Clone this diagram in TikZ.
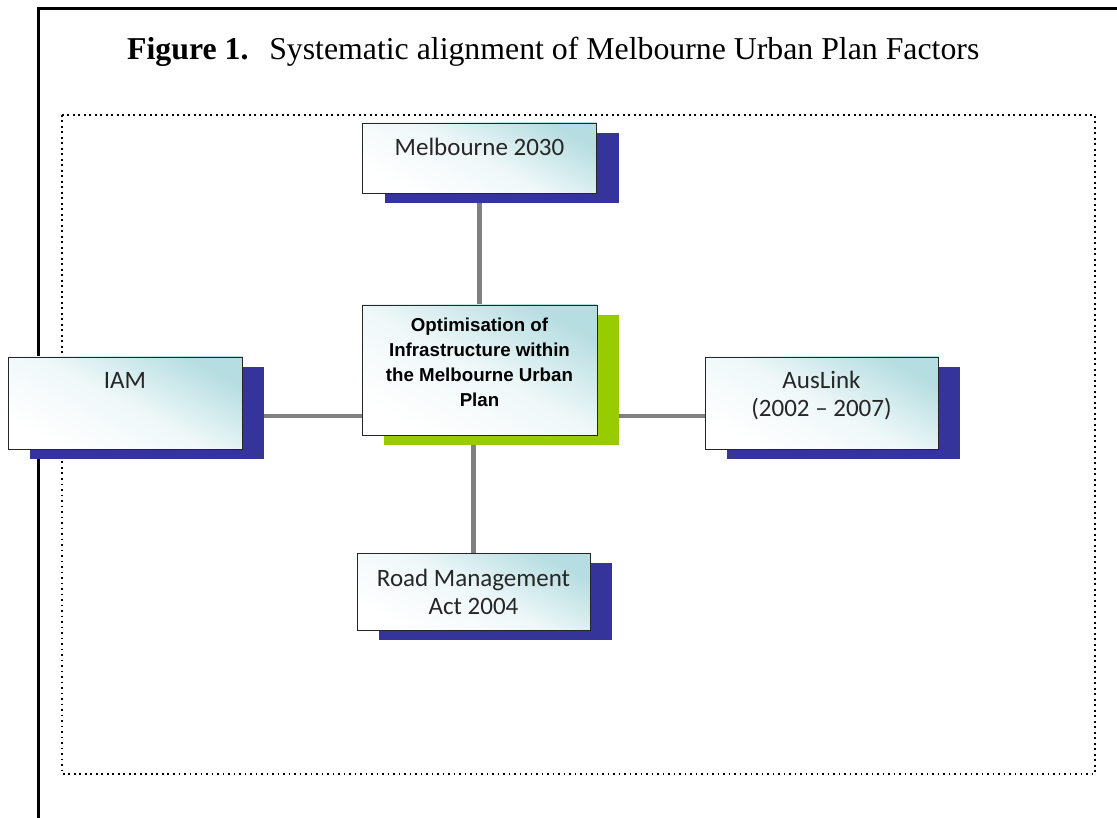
\documentclass[tikz,border=0pt]{standalone}
\usepackage{fontspec}
\setmainfont{Liberation Serif}
\newfontfamily\factorfont{Carlito}
\newfontfamily\corefont{Liberation Sans}
\usetikzlibrary{positioning,shadows,backgrounds}
\definecolor{shadowblue}{HTML}{35349A}
\definecolor{shadowgreen}{HTML}{99CC00}
\definecolor{boxteal}{HTML}{B6DDE1}
\definecolor{linkgray}{HTML}{808080}
\tikzset{
  factor/.style={draw=black!85, line width=0.9pt, top color=boxteal, bottom color=white,
    middle color=boxteal!22, shading angle=-28, inner sep=0pt, minimum width=234pt,
    general shadow={shadow xshift=22pt, shadow yshift=-10pt, fill=shadowblue, draw=none}},
  core/.style={factor, general shadow={shadow xshift=22pt, shadow yshift=-10pt, fill=shadowgreen, draw=none}},
  factortext/.style={font=\factorfont\fontsize{25}{28}\selectfont, text=black!85, align=center, inner sep=0pt},
  coretext/.style={font=\corefont\bfseries\fontsize{18.7}{25}\selectfont, align=center, inner sep=0pt},
  link/.style={draw=linkgray, line width=4.5pt}
}
\begin{document}
\begin{tikzpicture}[x=1pt,y=-1pt]
\useasboundingbox (0,0) rectangle (1117,818);
% frame and caption
\draw[line width=3pt] (38,818) -- (38,9) -- (1117,9);
\node[anchor=base west, inner sep=0pt, font=\fontsize{31.8}{36}\selectfont] (title) at (127,60)
  {\textbf{Figure 1.}\hspace{0.32em} Systematic alignment of Melbourne Urban Plan Factors};
\draw[line width=1.6pt, dash pattern=on 1.6pt off 3.9pt] (62,115) rectangle (1095,774);
% boxes
\node[factor, minimum height=70pt] (mel) at (479.5,158) {};
\node[core, minimum height=130pt, minimum width=235pt] (opt) at (479.5,370) {};
\node[factor, minimum height=92pt] (iam) at (125,403) {};
\node[factor, minimum height=92pt, minimum width=233pt] (aus) at (821.5,403) {};
\node[factor, minimum height=77pt, minimum width=233pt] (road) at (473.5,591.5) {};
% texts
\node[factortext] (meltext) at ([yshift=-24pt]mel.north) {Melbourne 2030};
\node[coretext] (opttext) at ([yshift=-58pt]opt.north) {Optimisation of\\Infrastructure within\\the Melbourne Urban\\Plan};
\node[factortext] (iamtext) at ([yshift=-24pt]iam.north) {IAM};
\node[factortext] (austext) at ([yshift=-39pt]aus.north) {AusLink\\(2002 \textendash\ 2007)};
\node[factortext] (roadtext) at ([yshift=-39pt]road.north) {Road Management\\Act 2004};
% links
\begin{pgfonlayer}{background}
\draw[link] (mel.south) -- (mel.south |- opt.north);
\draw[link] (road.north |- opt.south) -- (road.north);
\draw[link] ([yshift=-13pt]iam.east) -- ([yshift=-13pt]iam.east -| opt.west);
\draw[link] ([yshift=-46pt]opt.east) -- ([yshift=-46pt]opt.east -| aus.west);
\end{pgfonlayer}
\end{tikzpicture}
\end{document}
